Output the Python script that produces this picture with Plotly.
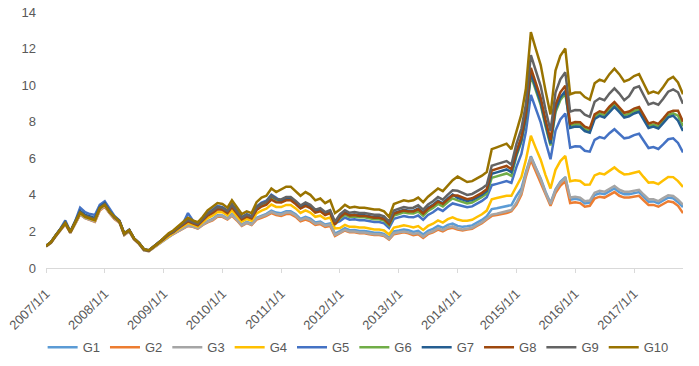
import pandas as pd
import plotly.graph_objects as go

dates = pd.date_range("2007-01-01", periods=131, freq="MS")
tick_years = list(range(2007, 2018))
tick_labels = [f"{y}/1/1" for y in tick_years]
series_names = ["G1", "G2", "G3", "G4", "G5", "G6", "G7", "G8", "G9", "G10"]

g1 = [1.19,1.39,1.73,2.08,2.42,1.93,2.42,2.95,2.75,2.66,2.56,3.2,3.4,3.0,2.72,2.52,1.82,2.02,1.58,1.33,0.98,0.93,1.13,1.33,
      1.52,1.74,1.87,2.03,2.19,2.35,2.29,2.19,2.4,2.57,2.68,2.88,
      2.87,2.72,2.94,2.67,2.37,2.52,2.42,2.75,2.86,2.96,3.14,3.03,
      3.0,3.1,3.1,2.94,2.69,2.8,2.7,2.49,2.54,2.38,2.44,1.88,
      2.02,2.18,2.07,2.08,2.03,2.03,1.98,1.93,1.93,1.87,1.66,2.0,
      2.05,2.11,2.06,1.97,2.03,1.83,2.03,2.14,2.3,2.2,2.36,2.43,
      2.3,2.25,2.28,2.33,2.48,2.63,2.83,3.22,3.27,3.33,3.38,3.44,
      3.94,4.35,5.24,6.11,5.5,4.89,4.17,3.55,4.3,4.71,4.97,3.73,
      3.78,3.73,3.53,3.57,3.99,4.09,4.04,4.2,4.35,4.15,4.04,4.04,
      4.1,4.15,3.89,3.63,3.64,3.54,3.69,3.85,3.81,3.6,3.33]
g2 = [1.18,1.38,1.72,2.06,2.4,1.92,2.4,2.92,2.72,2.62,2.52,3.15,3.35,2.98,2.68,2.48,1.8,2.0,1.56,1.32,0.97,0.92,1.12,1.32,
      1.5,1.72,1.85,2.0,2.15,2.3,2.25,2.15,2.35,2.5,2.6,2.8,
      2.8,2.65,2.85,2.6,2.3,2.45,2.35,2.65,2.75,2.85,3.0,2.9,
      2.85,2.95,2.95,2.8,2.55,2.65,2.55,2.35,2.4,2.25,2.3,1.75,
      1.9,2.05,1.95,1.95,1.9,1.9,1.85,1.8,1.8,1.75,1.55,1.85,
      1.9,1.95,1.9,1.8,1.85,1.65,1.85,1.95,2.1,2.0,2.15,2.2,
      2.1,2.05,2.1,2.15,2.3,2.45,2.65,2.85,2.9,2.95,3.0,3.1,
      3.45,4.0,5.0,5.9,5.3,4.7,4.0,3.4,4.1,4.5,4.75,3.55,
      3.6,3.55,3.35,3.4,3.8,3.9,3.85,4.0,4.15,3.95,3.85,3.85,
      3.9,3.95,3.7,3.45,3.45,3.35,3.5,3.65,3.6,3.4,3.0]
g3 = [1.18,1.38,1.72,2.07,2.41,1.92,2.41,2.93,2.73,2.64,2.54,3.18,3.38,2.99,2.7,2.5,1.81,2.01,1.57,1.32,0.97,0.92,1.12,1.32,
      1.51,1.73,1.86,2.02,2.17,2.32,2.27,2.17,2.37,2.53,2.64,2.84,
      2.84,2.68,2.89,2.64,2.33,2.48,2.38,2.7,2.81,2.91,3.07,2.96,
      2.92,3.03,3.03,2.87,2.62,2.73,2.62,2.42,2.47,2.32,2.37,1.81,
      1.94,2.09,1.99,1.99,1.94,1.94,1.89,1.84,1.84,1.79,1.59,1.9,
      1.95,2.0,1.95,1.86,1.91,1.71,1.91,2.01,2.17,2.07,2.22,2.28,
      2.16,2.11,2.15,2.2,2.35,2.5,2.7,2.92,2.97,3.03,3.08,3.17,
      3.57,4.13,5.14,6.06,5.45,4.84,4.12,3.5,4.25,4.66,4.92,3.85,
      3.9,3.85,3.65,3.69,4.12,4.22,4.17,4.33,4.49,4.28,4.17,4.17,
      4.23,4.28,4.02,3.76,3.76,3.66,3.82,3.98,3.94,3.74,3.46]
g4 = [1.2,1.4,1.75,2.1,2.45,1.95,2.45,3.0,2.8,2.7,2.6,3.25,3.45,3.05,2.75,2.55,1.85,2.05,1.6,1.35,1.0,0.95,1.15,1.35,
      1.55,1.78,1.92,2.11,2.27,2.46,2.37,2.27,2.51,2.73,2.86,3.06,
      3.05,2.88,3.15,2.85,2.53,2.68,2.58,2.98,3.14,3.24,3.47,3.34,
      3.33,3.45,3.45,3.26,3.01,3.15,3.03,2.8,2.86,2.68,2.76,2.16,
      2.19,2.36,2.25,2.26,2.21,2.21,2.16,2.11,2.11,2.05,1.83,2.21,
      2.27,2.34,2.29,2.22,2.29,2.08,2.3,2.42,2.6,2.48,2.67,2.77,
      2.65,2.58,2.59,2.64,2.79,2.94,3.14,3.76,3.83,3.89,3.95,3.95,
      4.46,4.97,5.91,7.23,6.57,5.92,5.08,4.35,5.37,5.85,6.13,4.74,
      4.8,4.76,4.55,4.56,5.06,5.18,5.12,5.32,5.5,5.28,5.12,5.14,
      5.22,5.28,4.98,4.67,4.69,4.59,4.78,4.98,4.97,4.75,4.43]
g5 = [1.22,1.42,1.78,2.15,2.6,2.0,2.55,3.3,3.05,2.95,2.9,3.45,3.65,3.2,2.85,2.6,1.9,2.1,1.62,1.38,1.02,0.97,1.18,1.4,
      1.62,1.86,2.01,2.24,2.43,3.0,2.6,2.43,2.71,3.02,3.2,3.4,
      3.33,3.14,3.49,3.13,2.79,2.94,2.84,3.36,3.58,3.68,4.01,3.84,
      3.65,3.78,3.78,3.57,3.32,3.48,3.35,3.09,3.17,2.97,3.07,2.44,
      2.56,2.76,2.64,2.66,2.61,2.61,2.56,2.51,2.51,2.44,2.19,2.69,
      2.77,2.84,2.79,2.77,2.87,2.64,2.9,3.05,3.25,3.12,3.35,3.53,
      3.46,3.37,3.32,3.37,3.52,3.67,3.87,4.53,4.6,4.68,4.75,4.66,
      5.52,6.24,7.45,9.47,8.72,7.96,6.91,5.95,7.52,8.12,8.45,6.58,
      6.66,6.64,6.41,6.36,7.01,7.16,7.09,7.37,7.59,7.34,7.09,7.14,
      7.27,7.34,6.96,6.56,6.61,6.51,6.76,7.04,7.09,6.84,6.32]
g6 = [1.2,1.41,1.76,2.11,2.48,1.97,2.48,3.08,2.88,2.78,2.7,3.3,3.5,3.08,2.78,2.56,1.86,2.06,1.6,1.36,1.0,0.95,1.16,1.37,
      1.6,1.84,1.98,2.2,2.38,2.59,2.48,2.38,2.64,2.92,3.09,3.29,
      3.26,3.07,3.4,3.06,2.72,2.87,2.77,3.27,3.47,3.57,3.88,3.71,
      3.62,3.75,3.75,3.54,3.29,3.45,3.32,3.06,3.14,2.94,3.04,2.41,
      2.71,2.92,2.79,2.82,2.77,2.77,2.72,2.67,2.67,2.59,2.33,2.87,
      2.95,3.04,2.99,2.98,3.09,2.86,3.12,3.28,3.5,3.36,3.61,3.81,
      3.7,3.59,3.53,3.58,3.73,3.88,4.08,4.93,5.01,5.09,5.17,5.04,
      6.12,6.9,8.17,10.52,9.72,8.92,7.76,6.7,8.52,9.19,9.54,7.77,
      7.86,7.85,7.61,7.52,8.27,8.44,8.36,8.69,8.94,8.67,8.36,8.43,
      8.59,8.67,8.24,7.78,7.85,7.75,8.04,8.37,8.46,8.33,7.75]
g7 = [1.21,1.41,1.76,2.12,2.5,1.98,2.5,3.12,2.9,2.82,2.74,3.34,3.55,3.1,2.8,2.57,1.87,2.07,1.61,1.36,1.01,0.96,1.17,1.38,
      1.61,1.85,1.99,2.21,2.4,2.62,2.5,2.4,2.67,2.96,3.13,3.33,
      3.29,3.11,3.45,3.09,2.76,2.91,2.81,3.32,3.52,3.62,3.95,3.78,
      3.68,3.81,3.81,3.6,3.35,3.51,3.38,3.12,3.2,2.99,3.1,2.46,
      2.81,3.03,2.9,2.93,2.88,2.88,2.83,2.78,2.78,2.7,2.43,3.0,
      3.09,3.18,3.13,3.13,3.25,3.02,3.29,3.46,3.68,3.54,3.8,4.02,
      3.84,3.73,3.66,3.71,3.86,4.01,4.21,5.15,5.23,5.31,5.39,5.24,
      6.2,6.99,8.26,10.66,9.86,9.05,7.88,6.8,8.66,9.33,9.68,7.66,
      7.74,7.72,7.49,7.4,8.15,8.32,8.23,8.55,8.81,8.54,8.23,8.3,
      8.45,8.54,8.12,7.66,7.73,7.63,7.92,8.24,8.33,8.06,7.49]
g8 = [1.2,1.4,1.75,2.1,2.46,1.96,2.46,3.03,2.83,2.74,2.64,3.27,3.47,3.06,2.76,2.55,1.86,2.06,1.6,1.35,1.0,0.95,1.15,1.36,
      1.58,1.82,1.96,2.17,2.34,2.55,2.44,2.34,2.6,2.86,3.01,3.21,
      3.19,3.01,3.32,2.99,2.66,2.81,2.71,3.17,3.36,3.46,3.74,3.59,
      3.58,3.7,3.7,3.5,3.25,3.4,3.28,3.03,3.1,2.9,3.0,2.38,
      2.78,3.0,2.87,2.9,2.85,2.85,2.8,2.75,2.75,2.67,2.4,2.97,
      3.06,3.14,3.09,3.09,3.21,2.98,3.24,3.41,3.63,3.5,3.75,3.97,
      3.96,3.84,3.76,3.81,3.96,4.11,4.31,5.33,5.42,5.5,5.58,5.41,
      6.37,7.17,8.46,10.94,10.12,9.31,8.1,7.0,8.92,9.61,9.97,7.89,
      7.98,7.97,7.73,7.63,8.4,8.57,8.49,8.82,9.08,8.8,8.49,8.56,
      8.72,8.8,8.37,7.9,7.98,7.88,8.17,8.5,8.6,8.6,8.0]
g9 = [1.2,1.41,1.76,2.11,2.47,1.97,2.47,3.05,2.85,2.76,2.67,3.29,3.5,3.07,2.77,2.56,1.87,2.07,1.61,1.36,1.01,0.96,1.17,1.37,
      1.61,1.85,1.99,2.21,2.4,2.62,2.5,2.4,2.67,2.96,3.13,3.33,
      3.29,3.11,3.45,3.09,2.76,2.91,2.81,3.32,3.52,3.62,3.95,3.78,
      3.75,3.88,3.88,3.67,3.42,3.58,3.45,3.19,3.27,3.06,3.17,2.53,
      2.93,3.16,3.02,3.06,3.01,3.01,2.96,2.91,2.91,2.82,2.54,3.15,
      3.24,3.33,3.28,3.3,3.43,3.19,3.47,3.65,3.88,3.74,4.01,4.25,
      4.22,4.09,4.0,4.05,4.2,4.35,4.55,5.59,5.68,5.76,5.85,5.65,
      6.77,7.61,8.94,11.64,10.79,9.95,8.67,7.5,9.59,10.32,10.7,8.55,
      8.64,8.63,8.39,8.27,9.09,9.28,9.18,9.54,9.82,9.54,9.18,9.4,
      9.84,9.94,9.46,8.94,9.03,8.93,9.26,9.64,9.77,9.61,8.98]
g10 = [1.2,1.42,1.76,2.12,2.45,1.97,2.47,3.02,2.8,2.72,2.62,3.28,3.45,3.05,2.78,2.55,1.88,2.08,1.62,1.36,1.02,0.97,1.18,1.38,
       1.65,1.9,2.05,2.3,2.5,2.75,2.6,2.5,2.8,3.15,3.35,3.55,
       3.5,3.3,3.7,3.3,2.95,3.1,3.0,3.6,3.85,3.95,4.35,4.15,
       4.3,4.45,4.45,4.2,3.95,4.15,4.0,3.7,3.8,3.55,3.7,3.0,
       3.2,3.45,3.3,3.35,3.3,3.3,3.25,3.2,3.2,3.1,2.8,3.5,
       3.6,3.7,3.65,3.7,3.85,3.6,3.9,4.1,4.35,4.2,4.5,4.8,
       5.0,4.85,4.7,4.75,4.9,5.05,5.25,6.5,6.6,6.7,6.8,6.5,
       7.5,8.4,9.8,12.9,12.0,11.1,9.7,8.4,10.8,11.6,12.0,9.5,
       9.6,9.6,9.35,9.2,10.1,10.3,10.2,10.6,10.9,10.6,10.2,10.3,
       10.5,10.6,10.1,9.55,9.65,9.55,9.9,10.3,10.45,10.15,9.5]

series_values = [g1, g2, g3, g4, g5, g6, g7, g8, g9, g10]
colors = ["#5B9BD5", "#ED7D31", "#A5A5A5", "#FFC000", "#4472C4",
          "#70AD47", "#255E91", "#9E480E", "#636363", "#997300"]

FONT = "Liberation Sans Narrow, Arial Narrow, Liberation Sans, sans-serif"

fig = go.Figure()
for name, vals, col in zip(series_names, series_values, colors):
    fig.add_trace(go.Scatter(x=dates, y=vals, mode="lines", name=name,
                             line=dict(color=col, width=2.5)))

fig.update_layout(
    template="none",
    width=699, height=366,
    margin=dict(l=46, r=16, t=12, b=98, autoexpand=False),
    paper_bgcolor="white", plot_bgcolor="white",
    font=dict(family=FONT, size=13, color="#595959"),
    showlegend=True,
    legend=dict(orientation="h", x=0.49, xanchor="center", y=-0.31, yanchor="middle",
                font=dict(size=13, color="#595959"), itemwidth=30,
                traceorder="normal", bgcolor="rgba(0,0,0,0)"),
)
fig.update_xaxes(
    range=[dates[0], dates[-1]],
    tickmode="array",
    tickvals=[pd.Timestamp(f"{y}-01-01") for y in tick_years],
    ticktext=tick_labels,
    tickangle=-45,
    tickfont=dict(size=13, color="#595959"),
    showgrid=False, zeroline=False, automargin=False,
    showline=True, linecolor="#D9D9D9", linewidth=1,
    ticks="outside", ticklen=4, tickcolor="#D9D9D9",
    ticklabelstandoff=8,
)
fig.update_yaxes(
    range=[0, 14], tickvals=[0, 2, 4, 6, 8, 10, 12, 14],
    tickfont=dict(size=13, color="#595959"),
    showgrid=False, zeroline=False, showline=False, automargin=False,
    ticks="", ticklabelstandoff=9,
)

fig.write_html("out.html", config={"displayModeBar": False},
               post_script="document.body.style.margin='0';")
